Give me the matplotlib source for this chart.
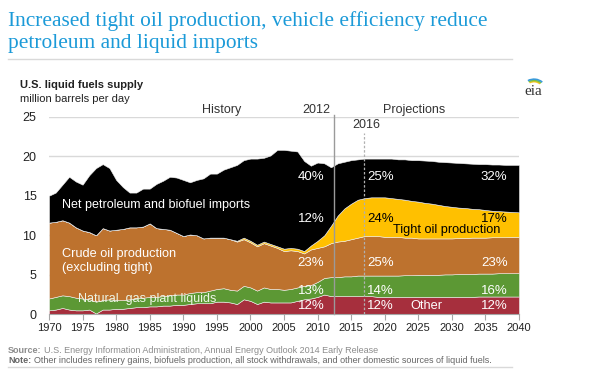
import numpy as np
import matplotlib
matplotlib.use("Agg")
import matplotlib.pyplot as plt
from matplotlib.lines import Line2D
from matplotlib.patches import Arc

plt.rcParams['font.family'] = ['Liberation Sans', 'DejaVu Sans']

# data (million barrels per day)
years = list(range(1970, 2041))

other = [0.5, 0.6, 0.8, 0.6, 0.5, 0.5, 0.6, 0.1, 0.6, 0.6,
         0.7, 0.7, 0.8, 0.9, 0.9, 1.0, 1.0, 1.1, 1.1, 1.2,
         1.2, 1.3, 1.4, 1.4, 1.4, 1.6, 1.6, 1.5, 1.3, 1.9,
         1.7, 1.3, 1.6, 1.5, 1.5, 1.5, 1.5, 1.7, 1.9, 2.0,
         2.2, 2.5, 2.3, 2.3, 2.3, 2.3, 2.3, 2.3, 2.3, 2.2,
         2.2, 2.2, 2.2, 2.2, 2.2, 2.2, 2.2, 2.2, 2.2, 2.2,
         2.2, 2.2, 2.2, 2.2, 2.25, 2.25, 2.25, 2.25, 2.25, 2.25,
         2.25]
ngpl = [1.5, 1.6, 1.6, 1.7, 1.6, 1.5, 1.3, 1.5, 1.2, 1.3,
        1.1, 1.1, 1.1, 1.1, 1.2, 1.2, 1.2, 1.2, 1.3, 1.3,
        1.3, 1.4, 1.4, 1.4, 1.6, 1.6, 1.7, 1.6, 1.7, 1.7,
        1.7, 1.7, 1.8, 1.7, 1.7, 1.6, 1.7, 1.7, 1.7, 1.7,
        1.9, 2.1, 2.4, 2.4, 2.5, 2.5, 2.6, 2.6, 2.6, 2.7,
        2.7, 2.7, 2.7, 2.75, 2.75, 2.8, 2.8, 2.8, 2.8, 2.85,
        2.85, 2.9, 2.9, 2.9, 2.9, 2.9, 2.9, 2.95, 2.95, 2.95,
        2.95]
crude = [9.6, 9.5, 9.5, 9.3, 8.9, 8.6, 8.5, 8.4, 9.1, 8.7,
         8.9, 9.0, 9.1, 9.0, 9.0, 9.3, 8.7, 8.5, 8.3, 7.8,
         7.4, 7.4, 7.2, 6.8, 6.7, 6.5, 6.4, 6.4, 6.2, 5.9,
         5.7, 5.6, 5.6, 5.5, 5.2, 4.9, 4.9, 4.6, 4.1, 4.5,
         4.3, 4.0, 4.3, 4.5, 4.5, 4.7, 4.8, 5.0, 5.0, 5.0,
         4.9, 4.9, 4.9, 4.75, 4.75, 4.6, 4.6, 4.6, 4.6, 4.55,
         4.55, 4.55, 4.55, 4.6, 4.55, 4.55, 4.6, 4.55, 4.55, 4.6,
         4.6]
tight = [0, 0, 0, 0, 0, 0, 0, 0, 0, 0,
         0, 0, 0, 0, 0, 0, 0, 0, 0, 0,
         0, 0, 0, 0, 0, 0, 0, 0, 0.1, 0.2,
         0.2, 0.2, 0.2, 0.2, 0.2, 0.3, 0.3, 0.3, 0.3, 0.5,
         0.9, 1.4, 2.2, 3.3, 4.1, 4.5, 4.8, 4.8, 4.9, 4.9,
         5.0, 4.9, 4.8, 4.8, 4.65, 4.65, 4.5, 4.4, 4.25, 4.1,
         4.0, 3.85, 3.8, 3.65, 3.6, 3.5, 3.35, 3.3, 3.25, 3.15,
         3.1]
imports = [3.4, 3.7, 4.5, 5.8, 5.8, 5.8, 7.2, 8.5, 8.1, 7.9,
           6.3, 5.3, 4.4, 4.4, 4.8, 4.4, 5.6, 6.1, 6.7, 7.0,
           7.1, 6.6, 7.0, 7.6, 8.1, 8.1, 8.6, 9.1, 9.6, 9.8,
           10.4, 10.9, 10.6, 11.2, 12.2, 12.5, 12.3, 12.3, 11.4, 10.1,
           9.9, 9.1, 7.4, 6.6, 5.9, 5.5, 5.1, 5.0, 4.9, 4.9,
           4.9, 5.0, 5.0, 5.1, 5.15, 5.25, 5.35, 5.4, 5.45, 5.55,
           5.6, 5.65, 5.65, 5.7, 5.7, 5.8, 5.85, 5.9, 5.9, 5.95,
           6.0]

colors = ['#a62f3d', '#5c9834', '#bd722e', '#ffc000', '#000000']

# percentage labels: year column, rows from top
pct_2012 = ['40%', '12%', '23%', '13%', '12%']
pct_2016 = ['25%', '24%', '25%', '14%', '12%']
pct_2040 = ['32%', '17%', '23%', '16%', '12%']
pct_rows = [17.4, 12.05, 6.45, 3.0, 1.1]
pct_cols = [2009.0, 2019.4, 2036.3]

fig = plt.figure(figsize=(6, 3.72), dpi=100)
ax = fig.add_axes([49 / 600, 1 - 314.3 / 372, 470 / 600, 197.6 / 372])

ax.stackplot(years, other, ngpl, crude, tight, imports, colors=colors,
             edgecolor='#f0f0f0', linewidth=0.4, zorder=2)

ax.set_xlim(1970, 2040)
ax.set_ylim(0, 25)
ax.set_xticks(range(1970, 2041, 5))
ax.set_yticks(range(0, 26, 5))
ax.yaxis.grid(True, color='#d9d9d9', lw=1, zorder=0)
ax.set_axisbelow(True)
for s in ['top', 'right', 'left']:
    ax.spines[s].set_visible(False)
ax.spines['bottom'].set_color('#a6a6a6')
ax.spines['bottom'].set_zorder(5)
ax.tick_params(axis='x', length=4, color='#a6a6a6', labelsize=8, labelcolor='#222222', pad=2)
ax.tick_params(axis='y', length=0, labelsize=9, labelcolor='#222222', pad=9)

# 2012 and 2016 markers
ax.plot([2012.4, 2012.4], [0, 25.2], color='#9a9a9a', lw=1, zorder=4, clip_on=False)
ax.plot([2016.9, 2016.9], [0, 22.9], color='#b0b0b0', lw=0.9, ls=(0, (2, 1.5)), zorder=4, clip_on=False)

ax.text(1995.7, 25.85, 'History', ha='center', va='center', fontsize=9, color='#333333')
ax.text(2009.8, 25.85, '2012', ha='center', va='center', fontsize=9, color='#333333')
ax.text(2024.4, 25.85, 'Projections', ha='center', va='center', fontsize=9, color='#333333')
ax.text(2017.2, 23.95, '2016', ha='center', va='center', fontsize=9, color='#333333')

# series labels
ax.text(1971.9, 13.85, 'Net petroleum and biofuel imports', color='white', fontsize=9, va='center', zorder=6)
ax.text(1971.9, 6.75, 'Crude oil production\n(excluding tight)', color='white', fontsize=9.2,
        va='center', linespacing=1.2, zorder=6)
ax.text(1974.3, 1.9, 'Natural  gas plant liquids', color='#eef6e6', fontsize=9, va='center', zorder=6)
ax.text(2021.2, 10.67, 'Tight oil production', color='black', fontsize=9.2, va='center', zorder=6)
ax.text(2026.25, 1.1, 'Other', color='white', fontsize=9.2, ha='center', va='center', zorder=6)

for col, labels in zip(pct_cols, [pct_2012, pct_2016, pct_2040]):
    for i, (row, lab) in enumerate(zip(pct_rows, labels)):
        c = 'black' if (i == 1 and col > 2015) else 'white'
        ax.text(col, row, lab, color=c, fontsize=9.5, ha='center', va='center', zorder=6)

# header
title_color = '#1b9ad8'
fig.text(8 / 600, 1 - 26 / 372, 'Increased tight oil production, vehicle efficiency reduce',
         family='Liberation Serif', fontsize=15.4, color=title_color, va='baseline')
fig.text(8 / 600, 1 - 48 / 372, 'petroleum and liquid imports',
         family='Liberation Serif', fontsize=15.4, color=title_color, va='baseline')
fig.add_artist(Line2D([8 / 600, 512 / 600], [1 - 59 / 372] * 2, color='#d9d9d9', lw=1))

fig.text(20 / 600, 1 - 88 / 372, 'U.S. liquid fuels supply', fontsize=8, fontweight='bold',
         color='#222222', va='baseline')
fig.text(20 / 600, 1 - 102 / 372, 'million barrels per day', fontsize=8, color='#222222', va='baseline')

# eia logo
lax = fig.add_axes([516 / 600, 1 - 98 / 372, 34 / 600, 30 / 372])
lax.set_xlim(0, 34)
lax.set_ylim(0, 30)
lax.axis('off')
for r, c in zip([8, 9.5, 11], ['#f2c21b', '#7cc242', '#3a9bd9']):
    lax.add_patch(Arc((18, 10), 2 * r, 2 * r * 0.8, theta1=35, theta2=130, color=c, lw=1.2))
lax.text(17, 3, 'eia', family='Liberation Serif', fontsize=11, color='#333333', ha='center', va='baseline')

# footer: bold prefix followed by normal text
fig.canvas.draw()
renderer = fig.canvas.get_renderer()
footer = [('Source:', 'U.S. Energy Information Administration, Annual Energy Outlook 2014 Early Release', 353, '#8c8c8c'),
          ('Note:', 'Other includes refinery gains, biofuels production, all stock withdrawals, '
           'and other domestic sources of liquid fuels.', 363, '#666666')]
for head, body, ypx, col in footer:
    t = fig.text(8 / 600, 1 - ypx / 372, head, fontsize=6.5, fontweight='bold', color=col, va='baseline')
    w = t.get_window_extent(renderer).width
    fig.text((8 + w + 3) / 600, 1 - ypx / 372, body, fontsize=6.5, color=col, va='baseline')
fig.add_artist(Line2D([8 / 600, 512 / 600], [1 - 367 / 372] * 2, color='#d9d9d9', lw=1))

fig.savefig('out.png', dpi=100)
